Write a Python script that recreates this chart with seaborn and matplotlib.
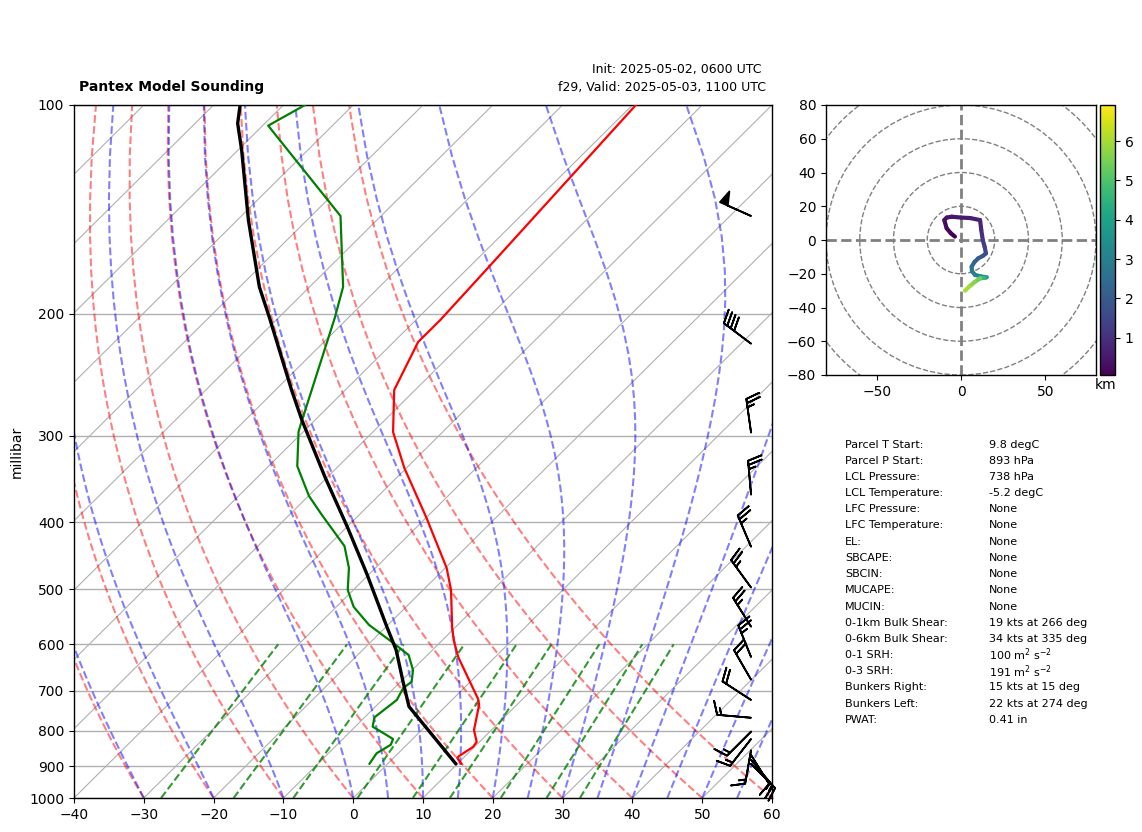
import numpy as np
import pandas as pd
import matplotlib
matplotlib.use("Agg")
import matplotlib.pyplot as plt
import seaborn as sns
from matplotlib.collections import LineCollection
from matplotlib.ticker import NullLocator

# ---- sounding profiles (pressure hPa, degC) ----
temp_p = [100, 171.3, 204.2, 219.8, 257.8, 296.4, 334, 394.4, 465.7, 501, 566.6, 591.6, 626, 719.6, 733.8, 797.9, 830, 844, 870, 875, 893]
temp_t = [-59.5, -57.2, -56.5, -56.5, -53.0, -47.1, -40.3, -29.9, -19.8, -16.0, -10.5, -8.4, -5.3, 3.6, 4.6, 7.5, 9.6, 9.8, 9.1, 9.1, 10.6]
dew_p = [100, 107.1, 144.6, 183, 203, 286.4, 296, 332, 366.7, 390.6, 433, 465.7, 501, 530, 562.7, 597, 621.8, 653.6, 679.6, 693.9, 722, 765, 789, 822, 838, 862, 893]
dew_t = [-106.9, -109.2, -85.8, -75.2, -71.9, -61.7, -60.7, -55.9, -49.9, -45.3, -37.6, -33.8, -30.8, -27.5, -22.7, -16.7, -12.7, -9.9, -8.4, -8.7, -7.9, -8.6, -7.5, -2.8, -2.3, -3.1, -2.6]
parcel_p = [100, 106.3, 116.1, 146.6, 183, 203.1, 257.8, 284.8, 344, 406, 474, 566, 611.6, 682.6, 738, 893]
parcel_t = [-116.2, -113.9, -109.5, -98.4, -87.2, -81.2, -67.7, -61.9, -50.4, -40.0, -30.5, -19.9, -15.2, -9.4, -5.2, 9.8]

# ---- wind barbs (pressure hPa, speed kt, direction deg) ----
barb_p = [144.6, 221, 297, 365, 434, 497, 566, 626, 675, 722, 766, 802, 822, 853, 867, 881, 893]
barb_spd = [50, 40, 25, 25, 25, 25, 25, 25, 20, 20, 15, 15, 15, 15, 10, 15, 15]
barb_dir = [294, 307, 352, 355, 337, 324, 328, 338, 330, 303, 275, 225, 218, 190, 148, 140, 135]

# ---- hodograph (km, kt, kt) ----
hodo_h = [0.05, 0.15, 0.25, 0.35, 0.40, 0.45, 0.55, 0.65, 0.75, 0.95, 1.2, 1.4, 1.6, 1.8, 2.05, 2.3, 2.6, 2.85, 3.1, 3.5, 4.0, 4.7, 5.4, 5.7, 6.0, 6.3]
hodo_u = [-3.6, -6, -8.5, -9.9, -8.5, -5.5, 0, 5.5, 11.3, 12, 12.9, 14, 14.8, 13, 10.3, 8, 6.3, 6.5, 8.3, 11.5, 15.2, 13.5, 11.3, 8, 5, 2.4]
hodo_v = [2.0, 4, 6.9, 11.8, 13.3, 13.8, 13.3, 13, 11.8, 6, 0, -4, -7.9, -9.4, -10.8, -13, -15.8, -18.5, -20.7, -21.5, -22.1, -22.5, -22.7, -25, -27.5, -30]

# ---- text table ----
table_names = ["Parcel T Start:", "Parcel P Start:", "LCL Pressure:", "LCL Temperature:", "LFC Pressure:",
               "LFC Temperature:", "EL:", "SBCAPE:", "SBCIN:", "MUCAPE:", "MUCIN:", "0-1km Bulk Shear:",
               "0-6km Bulk Shear:", "0-1 SRH:", "0-3 SRH:", "Bunkers Right:", "Bunkers Left:", "PWAT:"]
table_values = ["9.8 degC", "893 hPa", "738 hPa", "-5.2 degC", "None", "None", "None", "None", "None", "None", "None",
                "19 kts at 266 deg", "34 kts at 335 deg", r"100 m$^2$ s$^{-2}$", r"191 m$^2$ s$^{-2}$",
                "15 kts at 15 deg", "22 kts at 274 deg", "0.41 in"]

# ---- background line definitions ----
dry_t0 = np.arange(-40, 61, 10)
moist_t0 = np.concatenate([np.arange(-40, 0, 10), np.arange(0, 61, 5)])
mixing_w = [0.0004, 0.001, 0.002, 0.004, 0.007, 0.01, 0.016, 0.024, 0.032]
p_levels = [100, 200, 300, 400, 500, 600, 700, 800, 900, 1000]
iso_t = np.arange(-140, 61, 10)

W, H = 1142, 832
sns.set_style("ticks")
plt.rcParams.update({"font.family": ["DejaVu Sans"], "axes.edgecolor": "black", "xtick.color": "black",
                     "ytick.color": "black", "text.color": "black", "axes.labelcolor": "black",
                     "xtick.direction": "out", "ytick.direction": "out", "xtick.major.size": 3.5,
                     "ytick.major.size": 3.5, "axes.linewidth": 1.0, "font.size": 10,
                     "xtick.labelsize": 10, "ytick.labelsize": 10, "axes.labelsize": 10})
fig = plt.figure(figsize=(W / 100, H / 100), dpi=100)


def box(l, t, r, b):
    return [l / W, 1 - b / H, (r - l) / W, (b - t) / H]


ax = fig.add_axes(box(74, 105, 772, 798))
ax.set_yscale("log")
SKEW = 100.0


def sx(t, p):
    return np.asarray(t, float) + SKEW * np.log10(1000.0 / np.asarray(p, float))


pp = np.linspace(1000, 100, 50)
# isotherms and isobars
for t in iso_t:
    ax.plot(sx([t, t], [1000, 100]), [1000, 100], color="#b0b0b0", lw=0.8, zorder=1)
for p in p_levels:
    ax.axhline(p, color="#b0b0b0", lw=1.0, zorder=1)


def moist(t0):
    es = lambda T: 6.112 * np.exp(17.67 * (T - 273.15) / (T - 29.65))

    def f(T, p):
        rs = 0.622 * es(T) / (p - es(T))
        return (287.04 * T + 2.501e6 * rs) / (1005.7 + 2.501e6 ** 2 * rs * 0.622 / (287.04 * T * T)) / p

    out = [t0 + 273.15]
    for p0, p1 in zip(pp[:-1], pp[1:]):
        T = out[-1]
        d = p1 - p0
        k1 = f(T, p0)
        k2 = f(T + d * k1 / 2, p0 + d / 2)
        k3 = f(T + d * k2 / 2, p0 + d / 2)
        k4 = f(T + d * k3, p1)
        out.append(T + d * (k1 + 2 * k2 + 2 * k3 + k4) / 6)
    return np.array(out) - 273.15


for t0 in dry_t0:
    dry = (t0 + 273.15) * (pp / 1000.0) ** 0.28571 - 273.15
    ax.plot(sx(dry, pp), pp, color="r", ls="--", lw=1.5, alpha=0.5, zorder=2)
for t0 in moist_t0:
    ax.plot(sx(moist(t0), pp), pp, color="b", ls="--", lw=1.5, alpha=0.5, zorder=2)
pm = np.linspace(1000, 600, 2)
for w in mixing_w:
    e = pm * w / (0.622 + w)
    g = np.log(e / 6.112)
    td = 243.5 * g / (17.67 - g)
    ax.plot(sx(td, pm), pm, color="g", ls="--", lw=1.5, alpha=0.8, zorder=2)

# profiles
sns.lineplot(x=sx(temp_t, temp_p), y=temp_p, sort=False, estimator=None, color="red", lw=1.6, ax=ax, zorder=4)
sns.lineplot(x=sx(dew_t, dew_p), y=dew_p, sort=False, estimator=None, color="green", lw=1.6, ax=ax, zorder=4)
sns.lineplot(x=sx(parcel_t, parcel_p), y=parcel_p, sort=False, estimator=None, color="black", lw=2.4, ax=ax, zorder=5)

# barbs
sp = np.array(barb_spd, float)
rad = np.deg2rad(barb_dir)
ax.barbs(np.full(len(barb_p), 0.97), barb_p, -sp * np.sin(rad), -sp * np.cos(rad), length=7, linewidth=1.3,
         color="black", transform=ax.get_yaxis_transform(), clip_on=False, zorder=6)

ax.set_xlim(-40, 60)
ax.set_ylim(1000, 100)
ax.set_xticks(np.arange(-40, 61, 10))
ax.set_yticks(p_levels)
ax.set_yticklabels([str(p) for p in p_levels])
ax.yaxis.set_minor_locator(NullLocator())
ax.set_xlabel("")
ax.set_ylabel("millibar")
for s in ax.spines.values():
    s.set_visible(True)
    s.set_linewidth(1.0)
fig.text(79 / W, 1 - 87 / H, "Pantex Model Sounding", fontweight="bold", ha="left", va="center", fontsize=10)
fig.text(762 / W, 1 - 70 / H, "Init: 2025-05-02, 0600 UTC", ha="right", va="center", fontsize=9)
fig.text(766 / W, 1 - 87 / H, "f29, Valid: 2025-05-03, 1100 UTC", ha="right", va="center", fontsize=9)

# hodograph
hx = fig.add_axes(box(826, 105, 1096, 375))
for r in range(20, 121, 20):
    hx.add_patch(plt.Circle((0, 0), r, fill=False, color="gray", ls="--", lw=1.0, zorder=1))
hx.axhline(0, color="gray", ls="--", lw=2, zorder=1)
hx.axvline(0, color="gray", ls="--", lw=2, zorder=1)
pts = np.column_stack([hodo_u, hodo_v]).reshape(-1, 1, 2)
segs = np.concatenate([pts[:-1], pts[1:]], axis=1)
lc = LineCollection(segs, cmap="viridis", norm=plt.Normalize(0.05, 6.92), linewidths=3, zorder=3, capstyle="round")
lc.set_array(np.array(hodo_h)[:-1])
hx.add_collection(lc)
hx.set_xlim(-80, 80)
hx.set_ylim(-80, 80)
hx.set_xticks([-50, 0, 50])
hx.set_yticks(np.arange(-80, 81, 20))
hx.set_aspect("equal")
for s in hx.spines.values():
    s.set_visible(True)

cax = fig.add_axes(box(1100, 105, 1115, 375))
cb = fig.colorbar(lc, cax=cax)
cb.set_ticks([1, 2, 3, 4, 5, 6])
cb.outline.set_edgecolor("black")
cb.outline.set_linewidth(1.0)
fig.text(1106 / W, 1 - 385 / H, "km", ha="center", va="center", fontsize=10)

# table
for i, (n, v) in enumerate(zip(table_names, table_values)):
    y = 1 - (444.5 + i * 16.2) / H
    fig.text(845 / W, y, n, ha="left", va="center", fontsize=8)
    fig.text(989 / W, y, v, ha="left", va="center", fontsize=8)

fig.savefig("out.png", dpi=100)
